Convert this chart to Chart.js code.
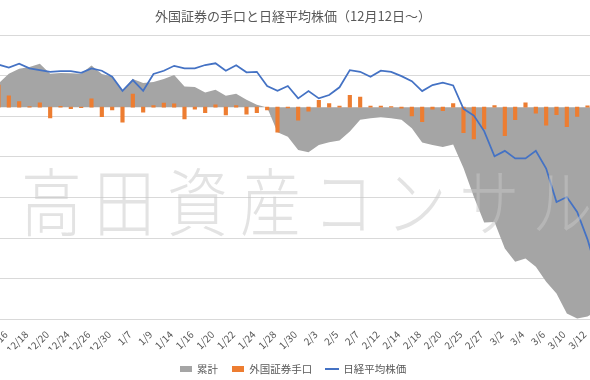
<!DOCTYPE html>
<html><head><meta charset="utf-8">
<script src="https://cdn.jsdelivr.net/npm/chart.js@4.4.1/dist/chart.umd.min.js"></script>
<style>
html,body{margin:0;padding:0;background:#fff;overflow:hidden;width:590px;height:380px;}
#wrap{position:relative;width:590px;height:380px;overflow:hidden;background:#fff;}
#c{position:absolute;left:-17px;top:0;}
#wm{position:absolute;left:21px;top:161px;font-family:"Noto Sans CJK JP";font-weight:200;font-size:74px;letter-spacing:15px;line-height:1;color:rgba(200,200,200,0.5);white-space:nowrap;transform:scaleX(0.82);transform-origin:0 0;pointer-events:none;}
</style></head><body>
<div id="wrap"><canvas id="c" width="620" height="384"></canvas><div id="wm">高田資産コンサル</div></div>
<script>
const dates = ['12/12','12/13','12/16','12/17','12/18','12/19','12/20','12/23','12/24','12/25','12/26','12/27','12/30','1/6','1/7','1/8','1/9','1/10','1/14','1/15','1/16','1/17','1/20','1/21','1/22','1/23','1/24','1/27','1/28','1/29','1/30','1/31','2/3','2/4','2/5','2/6','2/7','2/10','2/12','2/13','2/14','2/17','2/18','2/19','2/20','2/21','2/25','2/26','2/27','2/28','3/2','3/3','3/4','3/5','3/6','3/9','3/10','3/11','3/12','3/13'];
const cumulative = [380,5880,8330,9580,10000,10830,8330,8500,8450,8330,10400,8250,7650,4150,7000,6000,6250,7000,8000,5150,5000,3650,4330,2830,3330,1830,580,-80,-6250,-7380,-10680,-11250,-9430,-8750,-8350,-6100,-3180,-2750,-2500,-2750,-3180,-5250,-8850,-9430,-9930,-9300,-15180,-22350,-28800,-28680,-35250,-38600,-37750,-39850,-43600,-46500,-51500,-52750,-52250,-50750];
const foreignFlow = [380,5500,2830,1380,130,1080,-2700,180,-380,-130,2080,-2380,-700,-3750,3250,-1250,400,1000,830,-2950,-500,-1380,550,-1950,380,-1750,-1380,-700,-6250,-200,-3250,-1000,1700,880,250,2950,2500,250,250,130,-250,-2200,-3630,-500,-880,880,-6350,-7930,-5430,380,-7100,-3150,1050,-1500,-4500,-1900,-4880,-2300,350,1500];
const nikkei = [23450,24065,23970,24095,23945,23890,23835,23855,23860,23805,23945,23870,23680,23235,23575,23235,23765,23870,24025,23945,23945,24050,24105,23870,24040,23820,23835,23385,23235,23385,22995,23225,22995,23100,23345,23890,23835,23680,23870,23835,23700,23540,23225,23415,23490,23405,22665,22450,21960,21165,21335,21095,21095,21335,20775,19715,19875,19400,18535,17425];
const seriesNames = ['累計','外国証券手口','日経平均株価'];
const titleText = '外国証券の手口と日経平均株価（12月12日～）';

const FONT = '"Noto Sans CJK JP", "Noto Sans", sans-serif';
Chart.defaults.font.family = FONT;

function swatch(w, h, color) {
  const c = document.createElement('canvas');
  c.width = w; c.height = h;
  const g = c.getContext('2d');
  g.fillStyle = color; g.fillRect(0, 0, w, h);
  return c;
}
const legendStyles = [swatch(12, 6, '#a5a5a5'), swatch(12, 6, '#ed7d31'), swatch(14, 2, '#4472c4')];

new Chart(document.getElementById('c'), {
  data: {
    labels: dates,
    datasets: [
      { type: 'line', label: seriesNames[0], data: cumulative, yAxisID: 'y',
        backgroundColor: '#a5a5a5', borderColor: '#a5a5a5', borderWidth: 0,
        pointRadius: 0, fill: 'origin', tension: 0, order: 3 },
      { type: 'bar', label: seriesNames[1], data: foreignFlow, yAxisID: 'y',
        backgroundColor: '#ed7d31', barThickness: 3.5, order: 2 },
      { type: 'line', label: seriesNames[2], data: nikkei, yAxisID: 'y2',
        borderColor: '#4472c4', backgroundColor: '#4472c4', borderWidth: 1.75,
        pointRadius: 0, fill: false, tension: 0, order: 1 }
    ]
  },
  options: {
    responsive: false, animation: false, devicePixelRatio: 1,
    layout: { padding: 0 },
    plugins: {
      title: { display: true, text: titleText, color: '#595959',
        font: { family: FONT, size: 13, weight: 'normal', lineHeight: 1.2 },
        padding: { top: 8, bottom: 11.4 } },
      legend: { position: 'bottom',
        labels: { usePointStyle: true, pointStyleWidth: 12, padding: 14, color: '#595959',
          font: { family: FONT, size: 10.5 },
          sort: (a, b) => a.datasetIndex - b.datasetIndex,
          generateLabels: (chart) => {
            const items = Chart.defaults.plugins.legend.labels.generateLabels(chart);
            items.forEach(it => { it.pointStyle = legendStyles[it.datasetIndex]; });
            return items;
          } } },
      tooltip: { enabled: false }
    },
    scales: {
      x: { type: 'category', offset: true,
        grid: { display: false }, border: { display: false },
        ticks: { autoSkip: false, minRotation: 45, maxRotation: 45, color: '#595959', padding: 1,
          labelOffset: -3,
          font: { family: FONT, size: 10 },
          callback: function (v, i) { return i % 2 === 0 ? this.getLabelForValue(v) : null; } },
        afterFit: (s) => { s.height = 30; s.paddingLeft = 0; s.paddingRight = 0; } },
      y: { display: false, min: -53000, max: 18000 },
      y2: { display: false, min: 16000, max: 25000 },
      g: { type: 'linear', position: 'left', min: 0, max: 7,
        ticks: { display: false, stepSize: 1 },
        grid: { color: '#d9d9d9', drawTicks: false, lineWidth: 1 },
        border: { display: false } }
    }
  }
});
</script>
</body></html>
